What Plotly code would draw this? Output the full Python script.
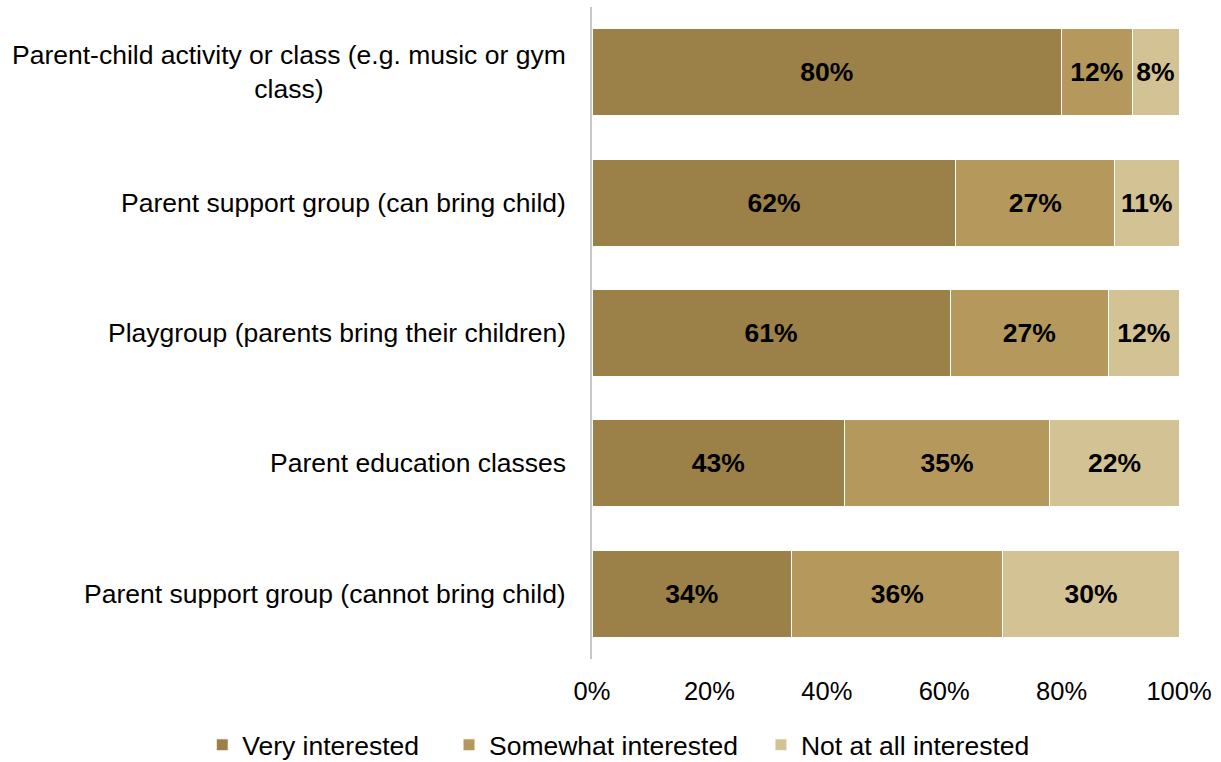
import plotly.graph_objects as go

categories = [
    "Parent-child activity or class (e.g. music or gym<br>class)",
    "Parent support group (can bring child)",
    "Playgroup (parents bring their children)",
    "Parent education classes",
    "Parent support group (cannot bring child)",
]
very_interested = [80, 62, 61, 43, 34]
somewhat_interested = [12, 27, 27, 35, 36]
not_interested = [8, 11, 12, 22, 30]
x_ticks = [0, 20, 40, 60, 80, 100]
x_tick_labels = ["0%", "20%", "40%", "60%", "80%", "100%"]

series = [
    ("Very interested", very_interested, "#9B8047"),
    ("Somewhat interested", somewhat_interested, "#B4985C"),
    ("Not at all interested", not_interested, "#D3C293"),
]

FONT = "Liberation Sans, Arial, sans-serif"
SIZE = 26.5
TICK_SIZE = 25.5

# each series gets its own legend box so the entries can be spaced freely
legend_ids = ["legend", "legend2", "legend3"]
legend_x = [-0.664, -0.2436, 0.2878]

fig = go.Figure()
for (name, vals, color), lid in zip(series, legend_ids):
    fig.add_trace(go.Bar(
        name=name,
        y=categories,
        x=vals,
        orientation="h",
        legend=lid,
        marker=dict(color=color, line=dict(color="white", width=1)),
        text=[f"{v}%" for v in vals],
        textposition="inside",
        insidetextanchor="middle",
        textangle=0,
        constraintext="none",
        textfont=dict(family=FONT, size=SIZE, color="black", weight="bold"),
        hoverinfo="skip",
    ))

# category labels drawn as annotations so wrapped lines stay centred
for cat in categories:
    fig.add_annotation(
        xref="paper", x=0, xshift=-24, xanchor="right",
        yref="y", y=cat, yanchor="middle",
        text=cat, showarrow=False, align="center",
        font=dict(family=FONT, size=SIZE, color="black"),
    )

legend_style = dict(
    orientation="h", xref="paper", xanchor="left",
    yref="paper", y=-0.132, yanchor="middle",
    font=dict(family=FONT, size=SIZE, color="black"),
    itemclick=False, itemdoubleclick=False,
    bgcolor="rgba(0,0,0,0)",
)

fig.update_layout(
    barmode="stack",
    bargap=0.333,
    width=1221, height=762,
    margin=dict(l=592, r=42, t=7, b=103, autoexpand=False),
    paper_bgcolor="white", plot_bgcolor="white",
    font=dict(family=FONT, size=SIZE, color="black"),
    showlegend=True,
    legend=dict(legend_style, x=legend_x[0]),
    legend2=dict(legend_style, x=legend_x[1]),
    legend3=dict(legend_style, x=legend_x[2]),
    xaxis=dict(
        range=[0, 100], tickvals=x_ticks, ticktext=x_tick_labels,
        showgrid=False, zeroline=False, showline=False,
        ticks="", ticklabelstandoff=14,
        tickfont=dict(family=FONT, size=TICK_SIZE, color="black"),
        fixedrange=True,
    ),
    yaxis=dict(
        categoryorder="array", categoryarray=categories, autorange="reversed",
        showticklabels=False, showgrid=False, zeroline=False,
        showline=True, linecolor="#C8C8C8", linewidth=2, ticks="",
        fixedrange=True,
    ),
)

fig.write_html("out.html")
